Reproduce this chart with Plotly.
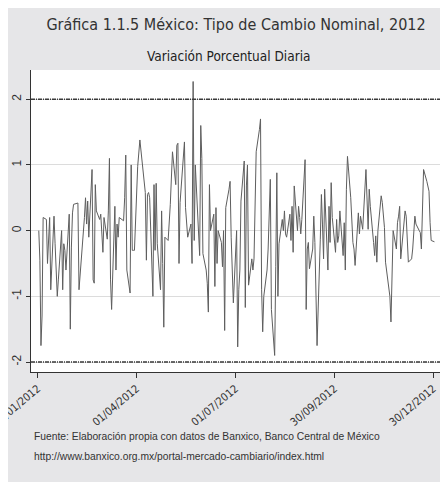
import pandas as pd
import plotly.graph_objects as go

# Daily % change, in chronological order by segment
seg_jan_feb = [0.0, -0.45, -1.75, -1.3, 0.2, 0.17, -0.5, -0.05, 0.2, -0.9, 0.22, -0.2, -0.6, -1.0, -0.75,
               0.0, -0.9, -0.2, -0.3, -0.6, 0.25, -1.5, -0.25, 0.27, 0.4, 0.42, -0.9, -0.7, -0.5, 0.2,
               0.5, 0.1, 0.45, -0.1, 0.93, -0.75, -0.8, 0.7, 0.3, 0.17, 0.25, 0.0, -0.33, 0.2]
seg_mar_apr = [-0.13, 0.3, 1.1, -0.75, -1.2, 0.37, -0.6, 0.1, -0.1, 0.2, 0.15, 0.5, 1.15, -0.6, -0.95,
               1.0, -0.3, -0.3, -0.3, 0.98, 1.15, 1.38, 0.58, -0.45, 0.55, 0.58, 0.5, -1.0, 0.7, -0.3,
               0.72, -0.2, -0.9, 0.3, -0.5, -1.47, -0.1, -0.15, 0.4, 0.9, 1.2]
seg_may_jul = [0.7, 1.3, 1.33, -0.5, 0.43, 1.15, 1.35, 0.35, 0.12, -0.1, 0.1, -0.5, 2.27, -0.15, 1.0,
               -0.2, -0.38, 1.6, 1.1, -0.35, -0.6, -0.8, -1.24, 0.7, 0.0, 0.25, -0.85, 0.35, -0.5, 0.0,
               -0.18, -0.55, 0.0, -1.52, 0.35, 0.63, 0.75, -0.1, -0.5, -1.1, 0.0, -1.77, -0.9, -0.6,
               0.45, 1.06]
seg_jul_sep = [-1.17, 0.68, 1.0, -0.83, -0.43, -0.6, -0.43, 0.78, 1.2, 1.54, 1.7, -0.9, -1.54, -1.0,
               -0.6, -0.28, 0.4, 0.78, -1.2, -1.9, -0.55, 0.88, -1.0, -0.2, 0.17, 0.0, 0.3, -0.05, -0.1,
               0.25, -0.15, 0.37, -0.33, 0.68, 0.0, 0.37, 0.2, -0.05, 0.17, 1.08, -1.2, -0.28, -0.18,
               -0.58, -0.28, 0.22]
seg_sep_nov = [-0.18, -1.0, -1.75, -0.13, 0.55, 0.1, -0.43, 0.63, -0.6, 0.37, -0.18, 0.73, 0.2, -0.33,
               0.17, -0.18, -0.08, 0.3, -0.38, 0.12, -0.6, 0.63, 1.13, 0.5, 0.07, -0.18, -0.28, -0.53,
               0.27, -0.05, 0.22, 0.12, 0.02, 0.93, 0.45, 0.02, 0.63, 0.37, -0.18, -0.38, -0.08, -0.48,
               0.0, 0.53, 0.43, 0.17]
seg_nov_dec = [0.05, -0.48, -1.0, -1.39, -0.6, 0.0, -0.28, 0.12, 0.22, 0.37, -0.43, 0.07, 0.3, 0.22,
               -0.2, -0.48, -0.43, -0.28, 0.22, 0.1, 0.0, -0.03, -0.28, 0.58, 0.93, 0.75, 0.6, 0.12,
               -0.15, -0.17]

holidays = ["2012-02-06", "2012-03-19", "2012-04-05", "2012-04-06", "2012-05-01",
            "2012-11-19", "2012-12-12", "2012-12-25"]
tick_dates = ["2012-01-01", "2012-04-01", "2012-07-01", "2012-09-30", "2012-12-30"]
tick_labels = ["01/01/2012", "01/04/2012", "01/07/2012", "30/09/2012", "30/12/2012"]
band_levels = [2, -2]

values = seg_jan_feb + seg_mar_apr + seg_may_jul + seg_jul_sep + seg_sep_nov + seg_nov_dec
days = pd.bdate_range("2012-01-02", "2012-12-31")
days = days[~days.isin(pd.to_datetime(holidays))]
n = min(len(days), len(values))
dates = days[:n]
values = values[:n]

NARROW = "DejaVu Sans Condensed, Liberation Sans Narrow, Liberation Sans, Arial, sans-serif"
SANS = "Liberation Sans, Arial, sans-serif"

# the page body adds an 8px offset, so the figure is 8px smaller and all positions shift by 8
OFF = 8
FW, FH = 448 - OFF, 482 - OFF
ML, MT = 31 - OFF, 70 - OFF
PLOT_BOTTOM = 372.5 - OFF
MB = FH - PLOT_BOTTOM
MR = FW - (443 - OFF)
PW = FW - ML - MR
PH = FH - MT - MB

fig = go.Figure()
fig.add_trace(go.Scatter(x=dates, y=values, mode="lines",
                         line=dict(color="#5e5e5e", width=1), showlegend=False,
                         hoverinfo="skip"))

for lv in band_levels:
    fig.add_shape(type="line", xref="paper", x0=0, x1=1, yref="y", y0=lv, y1=lv,
                  line=dict(color="#3a3a3a", width=1.6, dash="4px,1px,1px,1px"))

fig.update_layout(
    width=FW, height=FH,
    paper_bgcolor="#e6e6e8", plot_bgcolor="#ffffff",
    margin=dict(l=ML, r=MR, t=MT, b=MB, autoexpand=False),
    title=dict(text="Gráfica 1.1.5 México: Tipo de Cambio Nominal, 2012",
               x=(236 - OFF) / FW, xanchor="center", y=1 - (24 - OFF) / FH, yanchor="middle",
               font=dict(family=NARROW, size=16, color="#333333")),
    annotations=[
        dict(text="Variación Porcentual Diaria", xref="paper", yref="paper",
             x=(228.5 - 31) / PW, y=1 + (70 - 56) / PH, xanchor="center", yanchor="middle",
             showarrow=False, font=dict(family=NARROW, size=13.5, color="#222222")),
        dict(text="Fuente: Elaboración propia con datos de Banxico, Banco Central de México",
             xref="paper", yref="paper", x=1 / PW, y=-(437 - 372.5) / PH,
             xanchor="left", yanchor="middle", showarrow=False,
             font=dict(family=SANS, size=10.3, color="#333333")),
        dict(text="http://www.banxico.org.mx/portal-mercado-cambiario/index.html",
             xref="paper", yref="paper", x=1 / PW, y=-(457 - 372.5) / PH,
             xanchor="left", yanchor="middle", showarrow=False,
             font=dict(family=SANS, size=10.3, color="#333333")),
    ],
    xaxis=dict(type="date", range=["2011-12-25 20:00", "2013-01-07 21:00"],
               tickvals=tick_dates, ticktext=tick_labels, tickangle=-40,
               ticks="outside", ticklen=5, tickcolor="#333333",
               showline=True, linecolor="#333333", linewidth=1,
               showgrid=False, zeroline=False, automargin=False,
               ticklabeloverflow="allow",
               tickfont=dict(family=NARROW, size=11, color="#333333")),
    yaxis=dict(range=[-2.152, 2.445], tickvals=[-2, -1, 0, 1, 2],
               ticktext=["-2", "-1", "0", "1", "2"], tickangle=-90,
               ticks="outside", ticklen=4, tickcolor="#333333",
               showline=True, linecolor="#333333", linewidth=1, automargin=False,
               showgrid=True, gridcolor="#dcdcdc", gridwidth=1, zeroline=False,
               tickfont=dict(family=SANS, size=12, color="#333333")),
)

fig.write_html("out.html")
